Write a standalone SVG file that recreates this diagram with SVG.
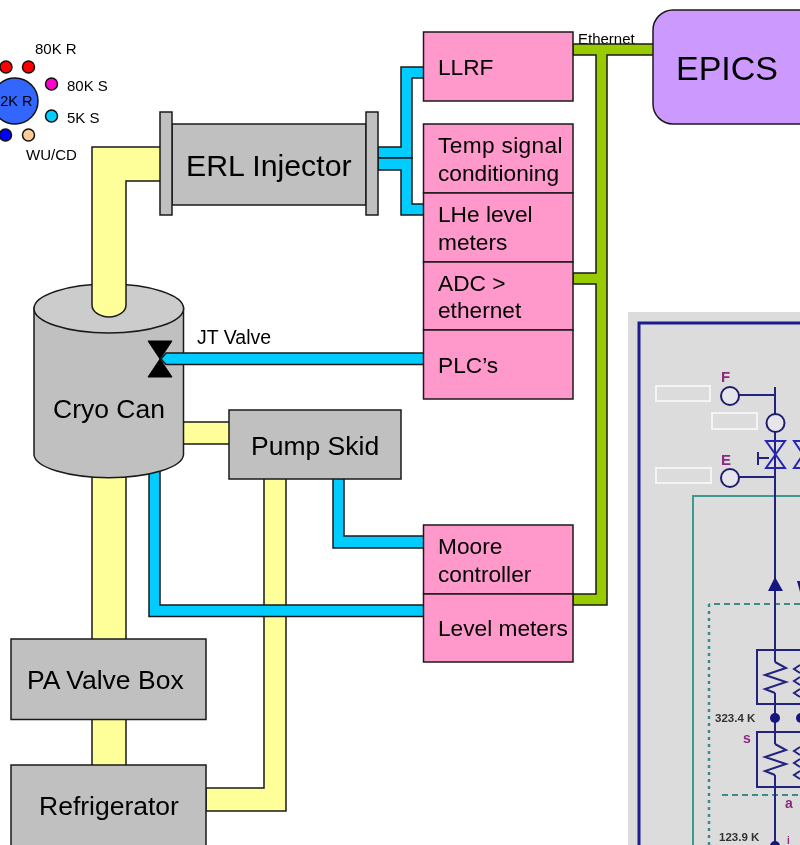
<svg xmlns="http://www.w3.org/2000/svg" width="800" height="845" viewBox="0 0 800 845">
<style>
text{font-family:"Liberation Sans",Arial,sans-serif;fill:#000}
.y{fill:#ffff99;stroke:#1a1a1a;stroke-width:1.5}
.b{fill:#00ccff;stroke:#1a1a1a;stroke-width:1.5}
.g{fill:#99cc00;stroke:#1a1a1a;stroke-width:1.5}
.gr{fill:#c0c0c0;stroke:#1a1a1a;stroke-width:1.5}
.p{fill:#ff99cc;stroke:#1a1a1a;stroke-width:1.5}
.pt{font-size:22.7px}
.big{font-size:26.5px}
.sm{font-size:15px}
.dot{stroke:#111;stroke-width:1.5}
.n{fill:none;stroke:#23237f;stroke-width:2}
.v{fill:none;stroke:#2626b4;stroke-width:2}
.c{fill:#e6e6ea;stroke:#1f1f70;stroke-width:2}
.w{fill:none;stroke:#f4f4f4;stroke-width:2}
.m{fill:#8c2a80;font-weight:bold}
.k{fill:#333;font-weight:bold;font-size:11.5px}
</style>
<defs>
<filter id="soft" x="0" y="0" width="100%" height="100%"><feGaussianBlur stdDeviation="0.45"/></filter>
<path id="zig" d="M775 662l11 6-21 7 21 7-21 7 10 4" fill="none" stroke="#23237f" stroke-width="2"/>
</defs>

<g id="inset" filter="url(#soft)">
<rect x="628" y="312" width="172" height="533" fill="#dcdcdc"/>
<path d="M800 323H639V845" fill="none" stroke="#1a1a8c" stroke-width="3"/>
<path d="M800 496H693V845" fill="none" stroke="#3d9a8e" stroke-width="2"/>
<path d="M800 604H709" fill="none" stroke="#3d8a8a" stroke-width="2" stroke-dasharray="6 4"/>
<path d="M709 604V845" fill="none" stroke="#3d8a8a" stroke-width="2.5" stroke-dasharray="3 4"/>
<path d="M722 795H800" fill="none" stroke="#3d8a8a" stroke-width="2" stroke-dasharray="6 4"/>
<rect class="w" x="656" y="386" width="54" height="15"/>
<rect class="w" x="712" y="413" width="45" height="16"/>
<rect class="w" x="656" y="468" width="55" height="15"/>
<path class="n" d="M775 387V662M775 693V744M775 775V845M739 395H775M739 477H775"/>
<circle class="c" cx="730" cy="396" r="9"/>
<circle class="c" cx="775.500" cy="423" r="9"/>
<circle class="c" cx="730" cy="478" r="9"/>
<path class="v" d="M766 441H785L766 468H785Z"/>
<path class="v" d="M794 441H812L794 468H812Z"/>
<path class="n" d="M758 458H769M758 452V465" stroke-width="2.500"/>
<text class="m" x="721" y="382" font-size="15">F</text>
<text class="m" x="721" y="465" font-size="15">E</text>
<path d="M775 577L783 591H768Z" fill="#15157f"/>
<path d="M797 581H803L800 592Z" fill="#15157f"/>
<path class="n" d="M800 650H757V704H800M800 732H757V787H800"/>
<use href="#zig"/>
<use href="#zig" y="82"/>
<path class="n" d="M800 665L794 669 800 673M800 677L794 681 800 685M800 689L794 693 800 697"/>
<path class="n" d="M800 747L794 751 800 755M800 759L794 763 800 767M800 771L794 775 800 779"/>
<circle cx="775" cy="718" r="5" fill="#15157f"/>
<circle cx="801" cy="718" r="5" fill="#15157f"/>
<circle cx="775" cy="846" r="5" fill="#15157f"/>
<text class="k" x="715" y="722">323.4 K</text>
<text class="k" x="719" y="841">123.9 K</text>
<text class="m" x="743" y="743" font-size="14">s</text>
<text class="m" x="785" y="808" font-size="14">a</text>
<text class="m" x="787" y="844" font-size="10">i</text>
</g>

<g id="legend">
<circle cx="15" cy="101" r="23" fill="#3366ff" stroke="#111" stroke-width="1.5"/>
<text x="16.300" y="106" text-anchor="middle" font-size="14.500">2K R</text>
<circle class="dot" cx="6" cy="67" r="6" fill="#ff0000"/>
<circle class="dot" cx="28.500" cy="67" r="6" fill="#ff0000"/>
<circle class="dot" cx="51.500" cy="84" r="6" fill="#ff00cc"/>
<circle class="dot" cx="51.500" cy="116" r="6" fill="#00ccff"/>
<circle class="dot" cx="5.500" cy="135" r="6" fill="#0000ff"/>
<circle class="dot" cx="28.500" cy="135" r="6" fill="#ffcc99"/>
<text class="sm" x="35" y="54">80K R</text>
<text class="sm" x="67" y="91">80K S</text>
<text class="sm" x="67" y="123">5K S</text>
<text class="sm" x="26" y="160">WU/CD</text>
</g>

<text class="sm" x="578" y="44">Ethernet</text>
<text x="197" y="344" font-size="19.500">JT Valve</text>

<g id="connectors">
<rect class="y" x="92" y="470" width="34" height="170"/>
<rect class="y" x="92" y="719" width="34" height="47"/>
<rect class="y" x="180" y="422" width="50" height="22"/>
<path class="y" d="M264 478V788H206V811H286V478Z"/>
<path class="b" d="M378 147H401V67H424V78H412V158H378Z"/>
<path class="b" d="M378 158H412V204H424V215H401V170H378Z"/>
<path class="b" d="M149 470V616.500H424V605H160V470Z"/>
<path class="b" d="M333 478V548H424V536H344V478Z"/>
<path class="g" d="M573 44H654V55H607V605H573V594H596V284H573V273H596V55H573Z"/>
</g>

<g id="cryo-can">
<path class="gr" d="M34 308V455A74.800 23.500 0 0 0 183.500 455V308Z"/>
<ellipse cx="108.800" cy="308.500" rx="74.800" ry="24.500" fill="#cccccc" stroke="#1a1a1a" stroke-width="1.500"/>
<path class="y" d="M92 147V305A17 12 0 0 0 126 305V181H161V147Z"/>
<path d="M148 341H172L148 377H172Z" fill="#000" stroke="#000"/>
<path class="b" d="M424 353H166L161 359L166 364.500H424"/>
<text class="big" x="53" y="418">Cryo Can</text>
</g>

<g id="erl-injector">
<rect class="gr" x="172" y="124" width="194" height="81"/>
<rect class="gr" x="160" y="112" width="12" height="103"/>
<rect class="gr" x="366" y="112" width="12" height="103"/>
<text x="186" y="176" font-size="30.300">ERL Injector</text>
</g>

<g id="pump-skid"><rect class="gr" x="229" y="410" width="172" height="69"/><text class="big" x="251" y="455">Pump Skid</text></g>
<g id="pa-valve-box"><rect class="gr" x="11" y="639" width="195" height="80.500"/><text class="big" x="27" y="689">PA Valve Box</text></g>
<g id="refrigerator"><rect class="gr" x="11" y="765" width="195" height="90"/><text class="big" x="39" y="815">Refrigerator</text></g>

<g id="llrf"><rect class="p" x="423.500" y="32" width="149.500" height="69"/><text class="pt" x="438" y="75">LLRF</text></g>
<g id="temp"><rect class="p" x="423.500" y="124" width="149.500" height="69"/><text class="pt" x="438" y="153" letter-spacing="0.350">Temp signal</text><text class="pt" x="438" y="181">conditioning</text></g>
<g id="lhe"><rect class="p" x="423.500" y="193" width="149.500" height="69"/><text class="pt" x="438" y="222">LHe level</text><text class="pt" x="438" y="250">meters</text></g>
<g id="adc"><rect class="p" x="423.500" y="262" width="149.500" height="68"/><text class="pt" x="438" y="291">ADC &gt;</text><text class="pt" x="438" y="318">ethernet</text></g>
<g id="plc"><rect class="p" x="423.500" y="330" width="149.500" height="69"/><text class="pt" x="438" y="373">PLC’s</text></g>
<g id="moore"><rect class="p" x="423.500" y="525" width="149.500" height="69"/><text class="pt" x="438" y="554">Moore</text><text class="pt" x="438" y="582">controller</text></g>
<g id="level"><rect class="p" x="423.500" y="594" width="149.500" height="68"/><text class="pt" x="438" y="636">Level meters</text></g>

<g id="epics"><rect x="653" y="10" width="170" height="114" rx="20" fill="#cc99ff" stroke="#1a1a1a" stroke-width="1.500"/><text x="676" y="80" font-size="34">EPICS</text></g>
</svg>
